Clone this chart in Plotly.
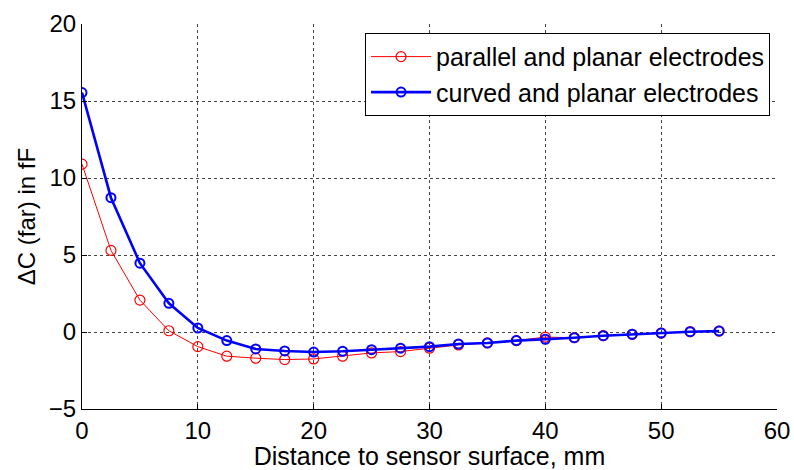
import plotly.graph_objects as go

# Distance from the sensor surface (mm)
distance_mm = [0, 2.5, 5, 7.5, 10, 12.5, 15, 17.5, 20, 22.5, 25, 27.5,
               30, 32.5, 35, 37.5, 40, 42.5, 45, 47.5, 50, 52.5, 55]

# Far-field capacitance change (fF)
parallel_planar = [10.9, 5.3, 2.07, 0.08, -0.95, -1.57, -1.7, -1.79, -1.75,
                   -1.57, -1.36, -1.27, -1.05, -0.84, -0.71, -0.56, -0.33,
                   -0.37, -0.24, -0.15, -0.07, 0.02, 0.06]
curved_planar = [15.55, 8.72, 4.47, 1.86, 0.26, -0.56, -1.1, -1.23, -1.3,
                 -1.25, -1.15, -1.05, -0.95, -0.78, -0.71, -0.56, -0.47,
                 -0.37, -0.24, -0.15, -0.07, 0.02, 0.06]

FONT = "Arial, Liberation Sans, sans-serif"

fig = go.Figure()
fig.add_trace(go.Scatter(
    x=distance_mm, y=parallel_planar, mode="lines+markers",
    name="parallel and planar electrodes",
    line=dict(color="#ff0000", width=1),
    marker=dict(symbol="circle-open", size=10, color="#ff0000",
                line=dict(width=1.2, color="#ff0000")),
))
fig.add_trace(go.Scatter(
    x=distance_mm, y=curved_planar, mode="lines+markers",
    name="curved and planar electrodes",
    line=dict(color="#0000ff", width=2.6),
    marker=dict(symbol="circle-open", size=9, color="#0000ff",
                line=dict(width=2, color="#0000ff")),
))

axis_common = dict(
    showgrid=True, gridcolor="#444444", griddash="dot", gridwidth=1,
    zeroline=False, showline=True, linecolor="black", linewidth=1,
    ticks="inside", ticklen=5, tickcolor="black",
    tickfont=dict(family=FONT, size=24, color="black"),
    mirror=False, automargin=False,
)

fig.update_layout(
    width=794, height=470,
    margin=dict(l=82, r=17, t=24, b=61),
    paper_bgcolor="white", plot_bgcolor="white",
    font=dict(family=FONT, color="black"),
    xaxis=dict(range=[0, 60], dtick=10,
               title=dict(text="Distance to sensor surface, mm",
                          font=dict(family=FONT, size=25), standoff=4),
               **axis_common),
    yaxis=dict(range=[-5, 20], dtick=5,
               title=dict(text="ΔC (far) in fF",
                          font=dict(family=FONT, size=24), standoff=6),
               **axis_common),
    legend=dict(x=0.99, y=0.977, xanchor="right", yanchor="top",
                bgcolor="white", bordercolor="black", borderwidth=1,
                font=dict(family=FONT, size=25), tracegroupgap=0,
                itemwidth=60),
    showlegend=True,
)

fig.write_html("out.html")
